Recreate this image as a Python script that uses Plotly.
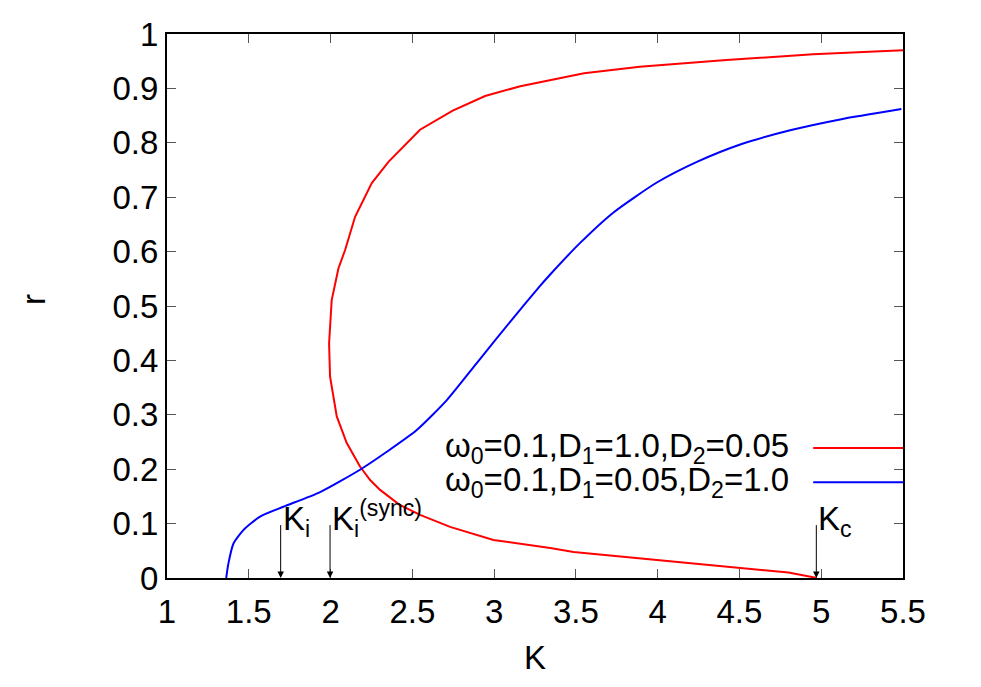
import plotly.graph_objects as go

# red curve: omega0=0.1, D1=1.0, D2=0.05 (S-shaped, multi-valued in K)
red_K = [5.50, 4.95, 4.42, 3.89, 3.55, 3.28, 3.16, 2.945, 2.747, 2.547, 2.425, 2.354, 2.252,
         2.15, 2.089, 2.048, 2.007, 1.991, 1.997, 2.038, 2.099, 2.18, 2.242, 2.303, 2.42,
         2.547, 2.731, 2.996, 3.343, 3.486, 3.995, 4.505, 4.80, 4.974]
red_r = [0.970, 0.963, 0.952, 0.940, 0.928, 0.912, 0.904, 0.886, 0.859, 0.824, 0.787, 0.765, 0.726,
         0.664, 0.603, 0.569, 0.511, 0.431, 0.370, 0.297, 0.248, 0.205, 0.180, 0.162, 0.135,
         0.116, 0.094, 0.070, 0.055, 0.048, 0.033, 0.018, 0.010, 0.0]

# blue curve: omega0=0.1, D1=0.05, D2=1.0
blue_K = [1.362, 1.375, 1.406, 1.467, 1.569, 1.712, 1.936, 2.18, 2.344, 2.527, 2.711, 2.894,
          3.098, 3.281, 3.343, 3.526, 3.73, 3.995, 4.24, 4.505, 4.81, 5.116, 5.49]
blue_r = [0.0, 0.026, 0.063, 0.088, 0.113, 0.131, 0.158, 0.199, 0.232, 0.272, 0.327, 0.395,
          0.471, 0.537, 0.558, 0.616, 0.672, 0.727, 0.765, 0.797, 0.823, 0.843, 0.862]

# marked critical couplings
arrow_K = [1.695, 1.997, 4.97]
arrow_text = ["K<sub>i</sub>", "K<sub>i</sub><sup>(sync)</sup>", "K<sub>c</sub>"]

legend_text = ["ω<sub>0</sub>=0.1,D<sub>1</sub>=1.0,D<sub>2</sub>=0.05",
               "ω<sub>0</sub>=0.1,D<sub>1</sub>=0.05,D<sub>2</sub>=1.0"]
colors = ["#ff0000", "#0000ff"]

x_ticks = [1, 1.5, 2, 2.5, 3, 3.5, 4, 4.5, 5, 5.5]
y_ticks = [0, 0.1, 0.2, 0.3, 0.4, 0.5, 0.6, 0.7, 0.8, 0.9, 1]

FONT = "Liberation Sans"
FS = 33

fig = go.Figure()
fig.add_trace(go.Scatter(x=red_K, y=red_r, mode="lines",
                         line=dict(color=colors[0], width=2),
                         showlegend=False))
fig.add_trace(go.Scatter(x=blue_K, y=blue_r, mode="lines",
                         line=dict(color=colors[1], width=2, shape="spline", smoothing=0.6),
                         showlegend=False))

# arrows down to the axis
for k, t in zip(arrow_K, arrow_text):
    fig.add_annotation(x=k, y=0, ax=k, ay=0.1, xref="x", yref="y", axref="x", ayref="y",
                       showarrow=True, arrowhead=2, arrowsize=1.3, arrowwidth=1,
                       arrowcolor="black", text="")
    fig.add_annotation(x=k, y=0.062, xref="x", yref="y", text=t, showarrow=False,
                       xanchor="left", yanchor="bottom", xshift=0,
                       font=dict(family=FONT, size=FS, color="black"))

# gnuplot style key: text then line sample
key_y = [0.239, 0.176]
for t, yk, c in zip(legend_text, key_y, colors):
    fig.add_annotation(x=0.848, y=yk, xref="paper", yref="paper", text=t, showarrow=False,
                       xanchor="right", yanchor="middle",
                       font=dict(family=FONT, size=FS, color="black"))
    fig.add_shape(type="line", xref="paper", yref="paper", x0=0.878, x1=1.0, y0=yk, y1=yk,
                  line=dict(color=c, width=2))

# axis titles
fig.add_annotation(x=0.5, y=-0.147, xref="paper", yref="paper", text="K", showarrow=False,
                   xanchor="center", yanchor="middle", font=dict(family=FONT, size=FS))
fig.add_annotation(x=-0.182, y=0.511, xref="paper", yref="paper", text="r", showarrow=False,
                   xanchor="center", yanchor="middle", textangle=-90,
                   font=dict(family=FONT, size=FS))

# page body has an 8px margin, so the plot margins are shifted to compensate
fig.update_layout(
    width=981, height=687,
    margin=dict(l=159, r=86, t=26, b=117),
    plot_bgcolor="white", paper_bgcolor="white",
    font=dict(family=FONT, size=FS, color="black"),
)
fig.update_xaxes(range=[1, 5.5], tickvals=x_ticks, ticktext=[f"{v:g}" for v in x_ticks],
                 ticks="inside", ticklen=9, tickcolor="#555", showgrid=False, zeroline=False,
                 showline=True, linecolor="black", linewidth=2, mirror="ticks",
                 automargin=False, ticklabelstandoff=3)
fig.update_yaxes(range=[0, 1], tickvals=y_ticks, ticktext=[f"{v:g}" for v in y_ticks],
                 ticks="inside", ticklen=9, tickcolor="#555", showgrid=False, zeroline=False,
                 showline=True, linecolor="black", linewidth=2, mirror="ticks",
                 automargin=False)

fig.write_html("out.html")
